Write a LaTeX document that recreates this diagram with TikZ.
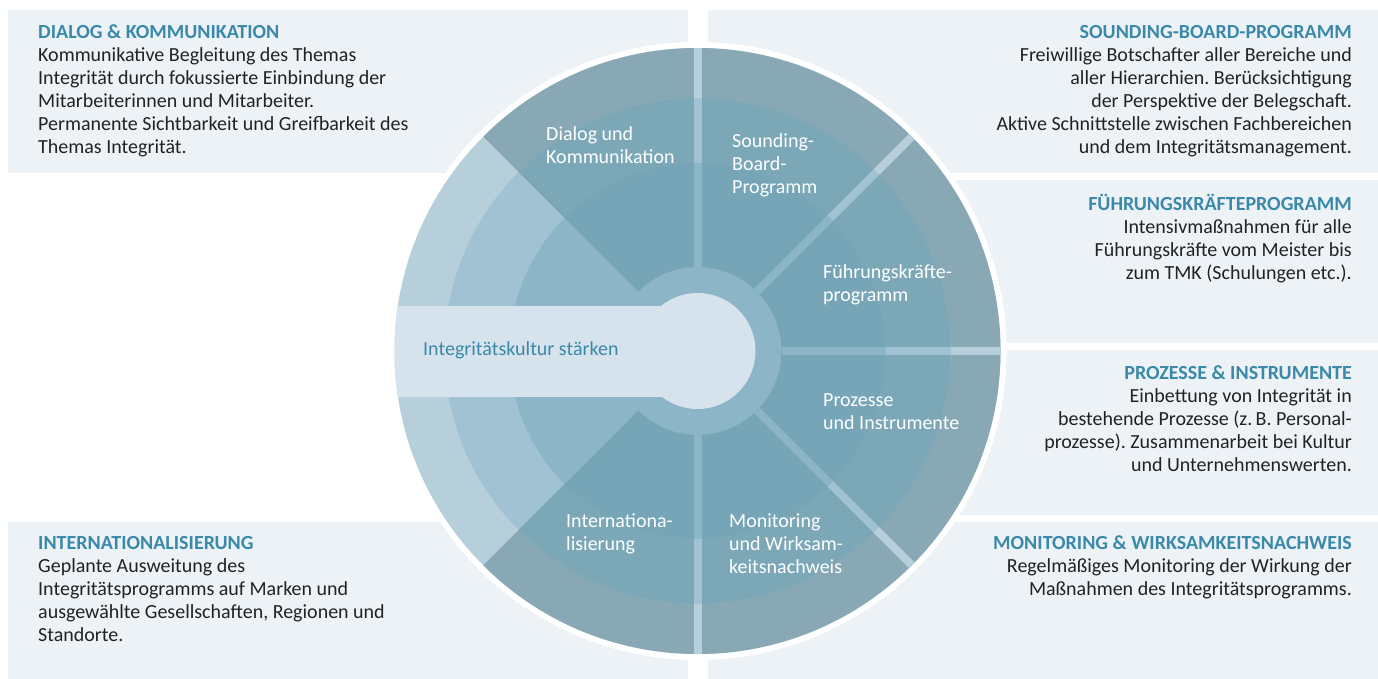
\documentclass[tikz,border=0pt]{standalone}
\usepackage{fontspec}
\setmainfont{Carlito}
\frenchspacing
\usetikzlibrary{positioning}

\definecolor{panelbg}{HTML}{EDF2F7}
\definecolor{ringout}{HTML}{B6CFDB}
\definecolor{ringmid}{HTML}{A0C2D2}
\definecolor{ringin}{HTML}{8CB5C8}
\definecolor{secout}{HTML}{89A8B5}
\definecolor{secmid}{HTML}{7BA7B7}
\definecolor{secin}{HTML}{75A5B6}
\definecolor{hubbg}{HTML}{D6E3EC}
\definecolor{headblue}{HTML}{3A89AA}
\definecolor{bodytext}{HTML}{222222}

\newcommand{\headline}[1]{{\bfseries\color{headblue}#1}}

\tikzset{
  panel/.style={fill=panelbg},
  infotext/.style={inner sep=0pt, text=bodytext, font=\fontsize{20}{23}\selectfont},
  seclabel/.style={inner sep=0pt, text=white, align=left, anchor=north west, font=\fontsize{20}{23}\selectfont},
}

\begin{document}
\begin{tikzpicture}[x=1pt,y=1pt]
        \useasboundingbox (0,0) rectangle (1378,-679);
        %PANELS
        \fill[panel] (8,-10) rectangle (688,-173);
        \fill[panel] (708,-10) rectangle (1378,-173);
        \fill[panel] (708,-180) rectangle (1378,-343);
        \fill[panel] (708,-350) rectangle (1378,-515);
        \fill[panel] (708,-522) rectangle (1378,-679);
        \fill[panel] (8,-522) rectangle (688,-679);

        %WHEEL
        \begin{scope}[shift={(697.5,-351)}]
            \fill[white] (0,0) circle (309);
            \fill[ringout] (0,0) circle (303);
            \fill[ringmid] (0,0) circle (253);
            \fill[ringin] (0,0) circle (188);
            % dark sectors
            \fill[secout] (-135:253) arc[start angle=-135, end angle=135, radius=253] -- (135:303) arc[start angle=135, end angle=-135, radius=303] -- cycle;
            \fill[secmid] (-135:188) arc[start angle=-135, end angle=135, radius=188] -- (135:253) arc[start angle=135, end angle=-135, radius=253] -- cycle;
            \fill[secin] (-135:84) arc[start angle=-135, end angle=135, radius=84] -- (135:188) arc[start angle=135, end angle=-135, radius=188] -- cycle;
            % gaps between sectors
            \begin{scope}
                \clip (0,0) circle (303);
                \foreach \a in {-90,-45,0,45,90} {
                    \draw[ringin, line width=8] (\a:84) -- (\a:188);
                    \draw[ringmid, line width=8] (\a:188) -- (\a:253);
                    \draw[ringout, line width=8] (\a:253) -- (\a:310);
                }
                % hub and bar
                \fill[hubbg] (-310,45) rectangle (0,-46);
            \end{scope}
            \fill[hubbg] (0,0) circle (58);
        \end{scope}

        %SECTOR LABELS
        \node[seclabel] (dialog) at (546,-124.5) {\strut Dialog und\\Kommunikation};
        \node[seclabel] (sounding) at (732,-131.5) {\strut Sounding-\\Board-\\Programm};
        \node[seclabel] (fuehrung) at (823,-262.5) {\strut Führungskräfte-\\programm};
        \node[seclabel] (prozesse) at (823,-390.5) {\strut Prozesse\\und Instrumente};
        \node[seclabel] (monitoring) at (729,-511.5) {\strut Monitoring\\und Wirksam-\\keitsnachweis};
        \node[seclabel] (international) at (566,-511.5) {\strut Internationa-\\lisierung};
        \node[seclabel, text=headblue] (kultur) at (423,-339.5) {\strut Integritätskultur stärken};

        %PANEL TEXTS
        \node[infotext, anchor=north west, align=left] (dialoginfo) at (38,-22)
            {\strut\headline{DIALOG \& KOMMUNIKATION}\\
             Kommunikative Begleitung des Themas\\
             Integrität durch fokussierte Einbindung der\\
             Mitarbeiterinnen und Mitarbeiter.\\
             Permanente Sichtbarkeit und Greifbarkeit des\\
             Themas Integrität.};
        \node[infotext, anchor=north east, align=right] (soundinginfo) at (1352,-22)
            {\strut\headline{SOUNDING-BOARD-PROGRAMM}\\
             Freiwillige Botschafter aller Bereiche und\\
             aller Hierarchien. Berücksichtigung\\
             der Perspektive der Belegschaft.\\
             Aktive Schnittstelle zwischen Fachbereichen\\
             und dem Integritätsmanagement.};
        \node[infotext, anchor=north east, align=right] (fuehrunginfo) at (1352,-194)
            {\strut\headline{FÜHRUNGSKRÄFTEPROGRAMM}\\
             Intensivmaßnahmen für alle\\
             Führungskräfte vom Meister bis\\
             zum TMK (Schulungen etc.).};
        \node[infotext, anchor=north east, align=right] (prozesseinfo) at (1352,-363)
            {\strut\headline{PROZESSE \& INSTRUMENTE}\\
             Einbettung von Integrität in\\
             bestehende Prozesse (z.\,B. Personal-\\
             prozesse). Zusammenarbeit bei Kultur\\
             und Unternehmenswerten.};
        \node[infotext, anchor=north east, align=right] (monitoringinfo) at (1352,-533)
            {\strut\headline{MONITORING \& WIRKSAMKEITSNACHWEIS}\\
             Regelmäßiges Monitoring der Wirkung der\\
             Maßnahmen des Integritätsprogramms.};
        \node[infotext, anchor=north west, align=left] (internationalinfo) at (38,-533)
            {\strut\headline{INTERNATIONALISIERUNG}\\
             Geplante Ausweitung des\\
             Integritätsprogramms auf Marken und\\
             ausgewählte Gesellschaften, Regionen und\\
             Standorte.};
\end{tikzpicture}
\end{document}
